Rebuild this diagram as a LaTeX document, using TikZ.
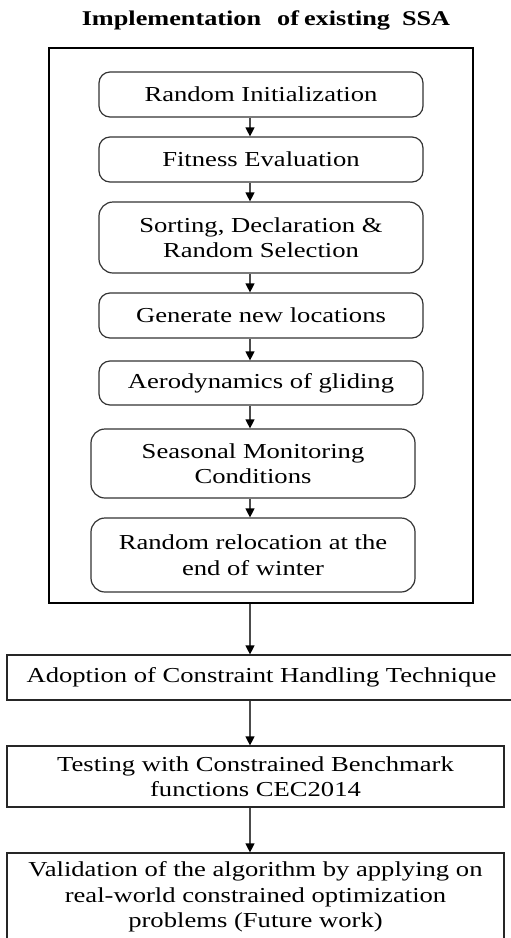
\documentclass[tikz,border=0pt]{standalone}
\usepackage{fontspec}
\setmainfont{Liberation Serif}[FakeStretch=1.25]
\usetikzlibrary{arrows.meta}
\tikzset{
  txt/.style={font=\fontsize{21.3}{25.5}\selectfont, align=center, text=black},
  rbox/.style={txt, draw=black!80, line width=1.2pt, rounded corners=11pt, inner sep=0pt, minimum width=324},
  sbox/.style={txt, draw=black!85, line width=1.2pt, inner sep=0pt},
  outerbox/.style={draw=black, line width=1.3pt, inner sep=0pt},
  arr/.style={draw=black!70, line width=1.2pt, -{Triangle[width=9pt,length=9pt,color=black]}},
}
\begin{document}
\begin{tikzpicture}[x=1pt,y=-1pt]
\useasboundingbox (0,0) rectangle (511,938);
\clip (0,0) rectangle (511,938);
\node[font=\fontsize{21}{25}\selectfont\bfseries] (title) at (266,20) {Implementation\hspace{16pt}of\hspace{5pt}existing\hspace{12pt}SSA};
\node[outerbox, minimum width=424, minimum height=555] (outer) at (261,325.5) {};
\coordinate (ax) at (250,0);
\node[rbox, minimum height=45] (b1) at (261,94.5) {Random Initialization};
\node[rbox, minimum height=45] (b2) at (261,159.5) {Fitness Evaluation};
\node[rbox, minimum height=71, rounded corners=14pt] (b3) at (261,237.5) {Sorting, Declaration \&\\Random Selection};
\node[rbox, minimum height=45] (b4) at (261,315.5) {Generate new locations};
\node[rbox, minimum height=44] (b5) at (261,383) {Aerodynamics of gliding};
\node[rbox, minimum height=69, rounded corners=14pt] (b6) at (253,463.5) {Seasonal Monitoring\\Conditions};
\node[rbox, minimum height=74, rounded corners=14pt] (b7) at (253,555) {Random relocation at the\\end of winter};
\node[sbox, minimum width=509, minimum height=45] (a) at (261.5,677.5) {Adoption of Constraint Handling Technique};
\node[sbox, minimum width=497, minimum height=61] (b) at (255.5,776.5) {Testing with Constrained Benchmark\\functions CEC2014};
\node[sbox, minimum width=497, minimum height=88] (c) at (255.5,897) {Validation of the algorithm by applying on\\real-world constrained optimization\\problems (Future work)};
\draw[arr] (b1.south -| ax) -- (b2.north -| ax);
\draw[arr] (b2.south -| ax) -- (b3.north -| ax);
\draw[arr] (b3.south -| ax) -- (b4.north -| ax);
\draw[arr] (b4.south -| ax) -- (b5.north -| ax);
\draw[arr] (b5.south -| ax) -- (b6.north -| ax);
\draw[arr] (b6.south -| ax) -- (b7.north -| ax);
\draw[arr] (outer.south -| ax) -- (a.north -| ax);
\draw[arr] (a.south -| ax) -- (b.north -| ax);
\draw[arr] (b.south -| ax) -- (c.north -| ax);
\end{tikzpicture}
\end{document}
